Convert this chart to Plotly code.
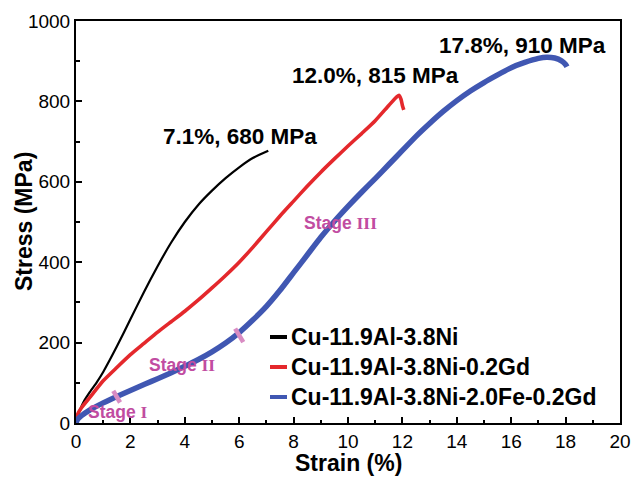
import plotly.graph_objects as go

# ---- data ----
black_x = [0, 0.05, 0.15, 0.3, 0.5, 0.75, 1.0, 1.5, 2.0, 2.5, 3.0, 3.5, 4.0, 4.5, 5.0, 5.5, 6.0, 6.5, 7.07]
black_y = [0, 15, 33, 55, 76, 100, 127, 190, 258, 326, 390, 449, 500, 543, 578, 609, 636, 659, 677]

red_x = [0, 0.05, 0.2, 0.5, 1.0, 1.5, 2.0, 2.5, 3.0, 3.5, 4.0, 4.5, 5.0, 5.5, 6.0, 6.5, 7.0, 7.5, 8.0, 8.5, 9.0, 9.5, 10.0, 10.5, 11.0, 11.5, 11.8, 11.88, 11.95, 12.0, 12.05]
red_y = [0, 20, 38, 63, 105, 138, 170, 198, 226, 252, 278, 306, 336, 367, 400, 437, 476, 515, 552, 589, 624, 657, 689, 720, 752, 790, 812, 815, 805, 790, 779]

blue_x = [0, 0.05, 0.2, 0.5, 1.0, 1.5, 2.0, 2.5, 3.0, 3.5, 4.0, 4.5, 5.0, 5.5, 6.0, 6.5, 7.0, 7.5, 8.0, 8.5, 9.0, 9.5, 10.0, 10.5, 11.0, 11.5, 12.0, 12.5, 13.0, 13.5, 14.0, 14.5, 15.0, 15.5, 16.0, 16.5, 17.0, 17.3, 17.6, 17.85, 18.0, 18.05]
blue_y = [0, 8, 18, 32, 50, 66, 81, 96, 110, 125, 141, 158, 177, 199, 225, 256, 290, 330, 374, 418, 462, 502, 539, 574, 608, 643, 678, 713, 745, 775, 802, 826, 847, 866, 884, 897, 907, 910, 908, 901, 892, 886]

names = ["Cu-11.9Al-3.8Ni", "Cu-11.9Al-3.8Ni-0.2Gd", "Cu-11.9Al-3.8Ni-2.0Fe-0.2Gd"]

# stage boundary marks on the blue curve
mark1_x = [1.37, 1.62]
mark1_y = [80, 51]
mark2_x = [5.85, 6.15]
mark2_y = [235, 201]

stage_roman = ["I", "II", "III"]
stage_x = [1.54, 3.89, 9.74]
stage_y = [28, 144, 497]

peak_labels = ["7.1%, 680 MPa", "12.0%, 815 MPa", "17.8%, 910 MPa"]
peak_x = [6.03, 11.0, 16.43]
peak_y = [712, 864, 940]

x_ticks = [0, 2, 4, 6, 8, 10, 12, 14, 16, 18, 20]
y_ticks = [0, 200, 400, 600, 800, 1000]

FONT = "Liberation Sans, Arial, sans-serif"
SERIF = "Liberation Serif, Times New Roman, serif"
BLACK = "#000000"
RED = "#E4282C"
BLUE = "#4057B2"
PINK = "#D98CC3"
MAGENTA = "#C14CA1"
colors = [BLACK, RED, BLUE]
widths = [2.2, 3.6, 5.5]

# plot-area geometry (pixels) used for paper-coordinate placement
L, R, T, B = 76, 12, 21, 55
W, H = 632, 478
PW, PH = W - L - R, H - T - B


def px2paper(px, py):
    return (px - L) / PW, (H - B - py) / PH


fig = go.Figure()
for xs, ys, nm, c, w in zip([black_x, red_x, blue_x], [black_y, red_y, blue_y], names, colors, widths):
    fig.add_trace(go.Scatter(x=xs, y=ys, mode="lines", name=nm, showlegend=False,
                             line=dict(color=c, width=w, shape="spline", smoothing=0.5)))
for mx, my in [(mark1_x, mark1_y), (mark2_x, mark2_y)]:
    fig.add_trace(go.Scatter(x=mx, y=my, mode="lines", showlegend=False,
                             line=dict(color=PINK, width=4.5), hoverinfo="skip"))

for rom, sx, sy in zip(stage_roman, stage_x, stage_y):
    fig.add_annotation(x=sx, y=sy, xref="x", yref="y", showarrow=False,
                       text="<b>Stage </b><span style='font-family:%s'><b>%s</b></span>" % (SERIF, rom),
                       font=dict(family=FONT, size=17.5, color=MAGENTA),
                       xanchor="center", yanchor="middle")

for lab, px, py in zip(peak_labels, peak_x, peak_y):
    fig.add_annotation(x=px, y=py, xref="x", yref="y", showarrow=False,
                       text="<b>%s</b>" % lab,
                       font=dict(family=FONT, size=22.5, color="black"),
                       xanchor="center", yanchor="middle")

# legend (drawn as keys + text)
legend_rows = [337, 367, 397]
for nm, c, ry in zip(names, colors, legend_rows):
    x0, yy = px2paper(270, ry)
    x1, _ = px2paper(287, ry)
    fig.add_shape(type="line", xref="paper", yref="paper", x0=x0, x1=x1, y0=yy, y1=yy,
                  line=dict(color=c, width=4))
    tx, _ = px2paper(289, ry)
    fig.add_annotation(x=tx, y=yy, xref="paper", yref="paper", showarrow=False,
                       text="<b>%s</b>" % nm, xanchor="left", yanchor="middle",
                       font=dict(family=FONT, size=23, color="black"))

# axis titles
ax, ay = px2paper(24, 222)
fig.add_annotation(x=ax, y=ay, xref="paper", yref="paper", showarrow=False,
                   text="<b>Stress (MPa)</b>", textangle=-90,
                   font=dict(family=FONT, size=23, color="black"),
                   xanchor="center", yanchor="middle")
bx, by = px2paper(348, 463)
fig.add_annotation(x=bx, y=by, xref="paper", yref="paper", showarrow=False,
                   text="<b>Strain (%)</b>",
                   font=dict(family=FONT, size=23, color="black"),
                   xanchor="center", yanchor="middle")

fig.update_xaxes(range=[0, 20], tickvals=x_ticks, ticktext=[str(v) for v in x_ticks],
                 ticks="inside", ticklen=6, tickwidth=2, tickcolor="black",
                 minor=dict(ticks="inside", ticklen=3.5, tickwidth=2, dtick=1, tickcolor="black"),
                 showline=True, linewidth=2, linecolor="black", mirror=True,
                 showgrid=False, zeroline=False, automargin=False,
                 tickfont=dict(family=FONT, size=19, color="black"))
fig.update_yaxes(range=[0, 1000], tickvals=y_ticks, ticktext=[str(v) for v in y_ticks],
                 ticks="inside", ticklen=6, tickwidth=2, tickcolor="black",
                 minor=dict(ticks="inside", ticklen=3.5, tickwidth=2, dtick=100, tickcolor="black"),
                 showline=True, linewidth=2, linecolor="black", mirror=True,
                 showgrid=False, zeroline=False, automargin=False,
                 tickfont=dict(family=FONT, size=19, color="black"))

fig.update_layout(
    width=W, height=H,
    margin=dict(l=L, r=R, t=T, b=B, autoexpand=False),
    paper_bgcolor="white", plot_bgcolor="white",
    showlegend=False,
)

fig.write_html("out.html")
